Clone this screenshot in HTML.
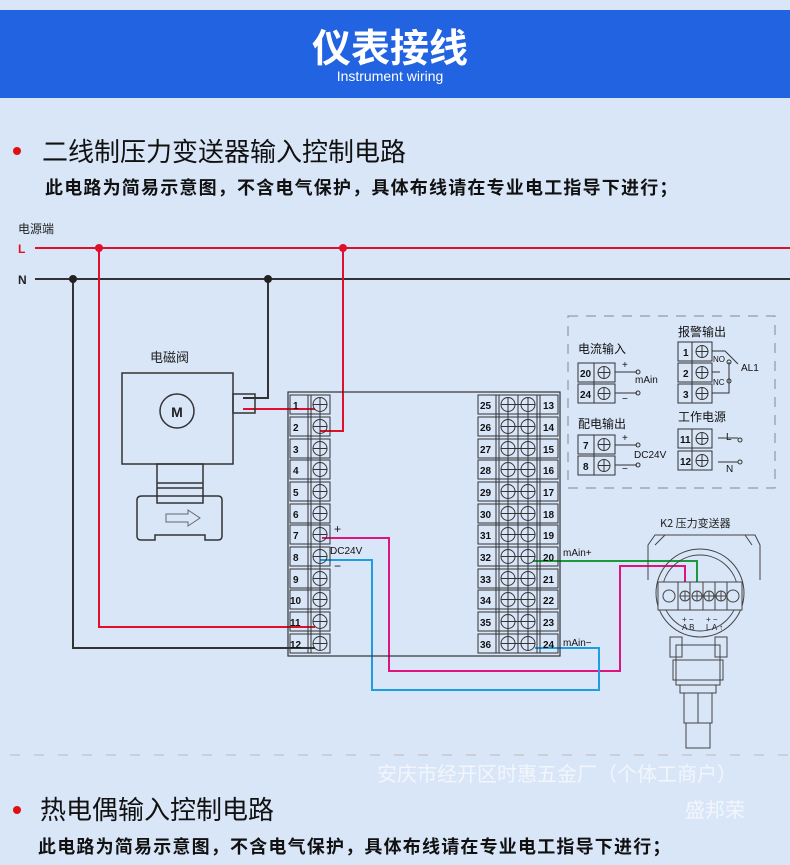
<!DOCTYPE html>
<html><head><meta charset="utf-8"><style>
body{margin:0;width:790px;height:865px;overflow:hidden;background:#d9e6f8;font-family:"Liberation Sans","Noto Sans CJK SC",sans-serif;}
svg{display:block}
</style></head><body>
<svg width="790" height="865" viewBox="0 0 790 865" xmlns="http://www.w3.org/2000/svg" font-family="Liberation Sans, Noto Sans CJK SC, sans-serif">
<rect width="790" height="865" fill="#d9e6f8"/>
<rect x="0" y="10" width="790" height="88" fill="#2163e0"/>
<text x="390" y="62" text-anchor="middle" font-size="39" font-weight="bold" fill="#fff" font-family="Noto Sans CJK SC, sans-serif">仪表接线</text>
<text x="390" y="81" text-anchor="middle" font-size="14" fill="#fff">Instrument wiring</text>
<circle cx="17" cy="151" r="4" fill="#e01010"/>
<text x="42" y="161" font-size="26" fill="#111" font-family="Noto Sans CJK SC, sans-serif">二线制压力变送器输入控制电路</text>
<text x="45" y="194" font-size="18" letter-spacing="1.2" font-weight="bold" fill="#111" font-family="Noto Sans CJK SC, sans-serif">此电路为简易示意图，不含电气保护，具体布线请在专业电工指导下进行；</text>

<text x="18" y="233" font-size="12" fill="#222" font-family="Noto Sans CJK SC, sans-serif">电源端</text>
<text x="18" y="253" font-size="12" font-weight="bold" fill="#e01020">L</text>
<text x="18" y="284" font-size="12" font-weight="bold" fill="#222">N</text>
<g fill="none" stroke-width="2">
<line x1="35" y1="248" x2="790" y2="248" stroke="#e0102a"/>
<line x1="35" y1="279" x2="790" y2="279" stroke="#333"/>
<polyline points="99,248 99,627 315,627" stroke="#e0102a"/>
<polyline points="343,248 343,431 320,431" stroke="#e0102a"/>
<polyline points="268,279 268,398 243,398" stroke="#333"/>
<polyline points="243,409 315,409" stroke="#e0102a"/>
<polyline points="73,279 73,648 315,648" stroke="#333"/>
<polyline points="322,538 389,538 389,671 620,671 620,566 685,566 685,593" stroke="#e0147f"/>
<polyline points="320,560 372,560 372,690 599,690 599,648 535,648" stroke="#1e9de0"/>
<polyline points="533,561 697,561 697,593" stroke="#1a9a3a"/>
</g>
<circle cx="99" cy="248" r="4" fill="#e0102a"/><circle cx="343" cy="248" r="4" fill="#e0102a"/>
<circle cx="73" cy="279" r="4" fill="#222"/><circle cx="268" cy="279" r="4" fill="#222"/>

<!-- valve -->
<text x="150" y="362" font-size="13" fill="#222" font-family="Noto Sans CJK SC, sans-serif">电磁阀</text>
<g fill="none" stroke="#333" stroke-width="1.5">
<rect x="122" y="373" width="111" height="91"/>
<circle cx="177" cy="411" r="17"/>
<rect x="233" y="394" width="22" height="19"/>
<rect x="157" y="464" width="46" height="32"/>
<line x1="157" y1="483" x2="203" y2="483"/><line x1="157" y1="488" x2="203" y2="488"/>
<path d="M142,496 H157 V503 H203 V496 H218 Q222,496 222,500 V536 Q222,540 218,540 H205 V535 H155 V540 H141 Q137,540 137,536 V500 Q137,496 142,496Z"/>
<path d="M166,514 H188 V510 L200,518 L188,526 V522 H166Z" stroke="#666" stroke-width="1"/>
</g>
<text x="177" y="417" text-anchor="middle" font-size="14" font-weight="bold" fill="#222">M</text>

<!-- controller -->
<rect x="288" y="392" width="272" height="264" fill="none" stroke="#333" stroke-width="1.2"/>
<text x="334" y="533" font-size="12" fill="#111">+</text>
<text x="330" y="554" font-size="10" fill="#111">DC24V</text>
<text x="334" y="570" font-size="12" fill="#111">−</text>
<text x="563" y="556" font-size="10" fill="#111">mAin+</text>
<text x="563" y="646" font-size="10" fill="#111">mAin−</text>

<!-- inset -->
<rect x="568" y="316" width="207" height="172" fill="none" stroke="#888" stroke-dasharray="10,8"/>
<g font-family="Noto Sans CJK SC, sans-serif" font-size="12" fill="#111">
<text x="578" y="353">电流输入</text><text x="678" y="336">报警输出</text>
<text x="578" y="428">配电输出</text><text x="678" y="421">工作电源</text>
</g>
<g font-size="10" fill="#111">
<text x="622" y="368">+</text><text x="635" y="383">mAin</text><text x="622" y="402">−</text>
<text x="622" y="441">+</text><text x="634" y="458">DC24V</text><text x="622" y="472">−</text>
<text x="713" y="362" font-size="8">NO</text><text x="713" y="385" font-size="8">NC</text>
<text x="741" y="371">AL1</text>
<text x="726" y="440">L</text><text x="726" y="472">N</text>
</g>
<g stroke="#333" fill="none" stroke-width="1">
<line x1="615" y1="372" x2="637" y2="372"/><circle cx="638" cy="372" r="2"/>
<line x1="615" y1="393" x2="637" y2="393"/><circle cx="638" cy="393" r="2"/>
<line x1="615" y1="445" x2="637" y2="445"/><circle cx="638" cy="445" r="2"/>
<line x1="615" y1="465" x2="637" y2="465"/><circle cx="638" cy="465" r="2"/>
<line x1="712" y1="351" x2="725" y2="351"/><line x1="725" y1="351" x2="738" y2="364"/>
<circle cx="729" cy="362" r="2"/><circle cx="729" cy="381" r="2"/>
<polyline points="729,362 729,393 712,393"/><line x1="712" y1="372" x2="720" y2="372"/>
<line x1="718" y1="438" x2="738" y2="438"/><circle cx="740" cy="440" r="2"/>
<line x1="718" y1="462" x2="738" y2="462"/><circle cx="740" cy="462" r="2"/>
</g>

<!-- transmitter -->
<text x="660" y="527" font-size="11" fill="#222" font-family="Noto Sans CJK SC, sans-serif">K2 压力变送器</text>
<g fill="none" stroke="#444" stroke-width="1">
<path d="M648,580 V545 L655,535 H755 L760,545 V580"/>
<line x1="655" y1="545" x2="665" y2="535"/><line x1="745" y1="535" x2="752" y2="545"/>
<circle cx="700" cy="593" r="44"/><circle cx="700" cy="593" r="38"/>
<rect x="658" y="582" width="84" height="28" fill="#d9e6f8"/>
<line x1="678" y1="582" x2="678" y2="610"/><line x1="690" y1="582" x2="690" y2="610"/><line x1="703" y1="582" x2="703" y2="610"/><line x1="715" y1="582" x2="715" y2="610"/><line x1="727" y1="582" x2="727" y2="610"/>
<circle cx="669" cy="596" r="6"/><circle cx="733" cy="596" r="6"/>
<circle cx="685" cy="596" r="5"/><circle cx="697" cy="596" r="5"/><circle cx="709" cy="596" r="5"/><circle cx="721" cy="596" r="5"/>
<path d="M680,596h10M685,591v10M692,596h10M697,591v10M704,596h10M709,591v10M716,596h10M721,591v10"/>
<rect x="670" y="637" width="12" height="20"/><rect x="715" y="637" width="12" height="20"/>
<rect x="676" y="645" width="44" height="40"/>
<rect x="673" y="660" width="50" height="20"/>
<rect x="680" y="685" width="36" height="8"/>
<rect x="684" y="693" width="28" height="30"/><line x1="698" y1="693" x2="698" y2="723"/>
<rect x="686" y="723" width="24" height="25"/>
</g>
<g font-size="8" fill="#222"><text x="682" y="622">+ −</text><text x="682" y="630">A B</text><text x="706" y="622">+ −</text><text x="706" y="630">L A ↑</text></g>

<line x1="10" y1="755" x2="790" y2="755" stroke="#bbb" stroke-dasharray="10,14"/>
<text x="377" y="781" font-size="20" fill="#f2f6fc" font-family="Noto Sans CJK SC, sans-serif">安庆市经开区时惠五金厂（个体工商户）</text>
<text x="685" y="817" font-size="20" fill="#f2f6fc" font-family="Noto Sans CJK SC, sans-serif">盛邦荣</text>
<circle cx="17" cy="810" r="4" fill="#e01010"/>
<text x="40" y="819" font-size="26" fill="#111" font-family="Noto Sans CJK SC, sans-serif">热电偶输入控制电路</text>
<text x="38" y="853" font-size="18" letter-spacing="1.2" font-weight="bold" fill="#111" font-family="Noto Sans CJK SC, sans-serif">此电路为简易示意图，不含电气保护，具体布线请在专业电工指导下进行；</text>

<g stroke="#333" fill="none" stroke-width="1">
<path d="M290,395h40v19h-40zM290,417h40v19h-40zM290,439h40v19h-40zM290,460h40v19h-40zM290,482h40v19h-40zM290,504h40v19h-40zM290,525h40v19h-40zM290,547h40v19h-40zM290,569h40v19h-40zM290,590h40v19h-40zM290,612h40v19h-40zM290,634h40v19h-40z"/>
<path d="M478,395h80v19h-80zM478,417h80v19h-80zM478,439h80v19h-80zM478,460h80v19h-80zM478,482h80v19h-80zM478,504h80v19h-80zM478,525h80v19h-80zM478,547h80v19h-80zM478,569h80v19h-80zM478,590h80v19h-80zM478,612h80v19h-80zM478,634h80v19h-80z"/>
<path d="M308,395v258M311,395v258M496,395v258M499,395v258M518,395v258M537,395v258M540,395v258"/>
<circle cx="320" cy="404.5" r="7"/><circle cx="320" cy="426.5" r="7"/><circle cx="320" cy="448.5" r="7"/><circle cx="320" cy="469.5" r="7"/><circle cx="320" cy="491.5" r="7"/><circle cx="320" cy="513.5" r="7"/><circle cx="320" cy="534.5" r="7"/><circle cx="320" cy="556.5" r="7"/><circle cx="320" cy="578.5" r="7"/><circle cx="320" cy="599.5" r="7"/><circle cx="320" cy="621.5" r="7"/><circle cx="320" cy="643.5" r="7"/>
<circle cx="508" cy="404.5" r="7"/><circle cx="508" cy="426.5" r="7"/><circle cx="508" cy="448.5" r="7"/><circle cx="508" cy="469.5" r="7"/><circle cx="508" cy="491.5" r="7"/><circle cx="508" cy="513.5" r="7"/><circle cx="508" cy="534.5" r="7"/><circle cx="508" cy="556.5" r="7"/><circle cx="508" cy="578.5" r="7"/><circle cx="508" cy="599.5" r="7"/><circle cx="508" cy="621.5" r="7"/><circle cx="508" cy="643.5" r="7"/>
<circle cx="528" cy="404.5" r="7"/><circle cx="528" cy="426.5" r="7"/><circle cx="528" cy="448.5" r="7"/><circle cx="528" cy="469.5" r="7"/><circle cx="528" cy="491.5" r="7"/><circle cx="528" cy="513.5" r="7"/><circle cx="528" cy="534.5" r="7"/><circle cx="528" cy="556.5" r="7"/><circle cx="528" cy="578.5" r="7"/><circle cx="528" cy="599.5" r="7"/><circle cx="528" cy="621.5" r="7"/><circle cx="528" cy="643.5" r="7"/>
<path d="M313,404.5h14M313,426.5h14M313,448.5h14M313,469.5h14M313,491.5h14M313,513.5h14M313,534.5h14M313,556.5h14M313,578.5h14M313,599.5h14M313,621.5h14M313,643.5h14M320,397v254"/>
<path d="M501,404.5h34M501,426.5h34M501,448.5h34M501,469.5h34M501,491.5h34M501,513.5h34M501,534.5h34M501,556.5h34M501,578.5h34M501,599.5h34M501,621.5h34M501,643.5h34M508,397v254M528,397v254"/>
</g>
<g font-size="10" font-weight="bold" fill="#111">
<text x="293" y="409">1</text><text x="293" y="431">2</text><text x="293" y="453">3</text><text x="293" y="474">4</text><text x="293" y="496">5</text><text x="293" y="518">6</text><text x="293" y="539">7</text><text x="293" y="561">8</text><text x="293" y="583">9</text><text x="290" y="604">10</text><text x="290" y="626">11</text><text x="290" y="648">12</text>
<text x="480" y="409">25</text><text x="480" y="431">26</text><text x="480" y="453">27</text><text x="480" y="474">28</text><text x="480" y="496">29</text><text x="480" y="518">30</text><text x="480" y="539">31</text><text x="480" y="561">32</text><text x="480" y="583">33</text><text x="480" y="604">34</text><text x="480" y="626">35</text><text x="480" y="648">36</text>
<text x="543" y="409">13</text><text x="543" y="431">14</text><text x="543" y="453">15</text><text x="543" y="474">16</text><text x="543" y="496">17</text><text x="543" y="518">18</text><text x="543" y="539">19</text><text x="543" y="561">20</text><text x="543" y="583">21</text><text x="543" y="604">22</text><text x="543" y="626">23</text><text x="543" y="648">24</text>
</g>
<g stroke="#333" fill="none" stroke-width="1">
<path d="M578,363h37v19h-37zM578,384h37v19h-37zM578,435h37v19h-37zM578,456h37v19h-37zM678,342h34v19h-34zM678,363h34v19h-34zM678,384h34v19h-34zM678,429h34v19h-34zM678,451h34v19h-34z"/>
<path d="M594,363v40M594,435v40M692,342v61M692,429v41"/>
<circle cx="604" cy="372.5" r="6"/><circle cx="604" cy="393.5" r="6"/><circle cx="604" cy="444.5" r="6"/><circle cx="604" cy="465.5" r="6"/>
<circle cx="702" cy="351.5" r="6"/><circle cx="702" cy="372.5" r="6"/><circle cx="702" cy="393.5" r="6"/><circle cx="702" cy="438.5" r="6"/><circle cx="702" cy="460.5" r="6"/>
<path d="M598,372.5h12M604,366.5v12M598,393.5h12M604,387.5v12M598,444.5h12M604,438.5v12M598,465.5h12M604,459.5v12M696,351.5h12M702,345.5v12M696,372.5h12M702,366.5v12M696,393.5h12M702,387.5v12M696,438.5h12M702,432.5v12M696,460.5h12M702,454.5v12"/>
</g>
<g font-size="10" font-weight="bold" fill="#111">
<text x="580" y="377">20</text><text x="580" y="398">24</text><text x="583" y="449">7</text><text x="583" y="470">8</text>
<text x="683" y="356">1</text><text x="683" y="377">2</text><text x="683" y="398">3</text><text x="680" y="443">11</text><text x="680" y="465">12</text>
</g>
</svg>
</body></html>
